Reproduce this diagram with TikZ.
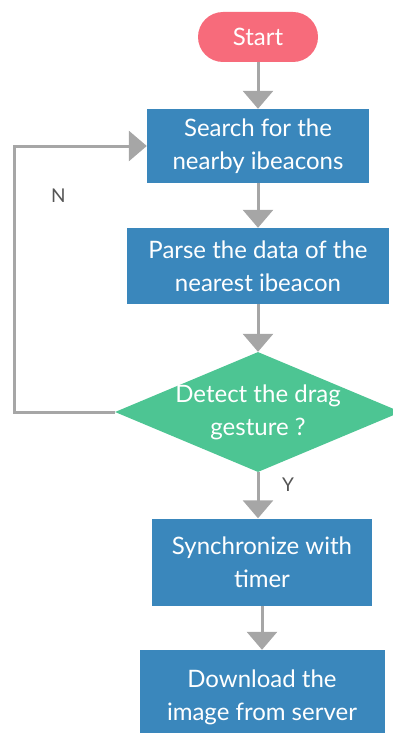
\documentclass[tikz,border=0pt]{standalone}
\usepackage{fontspec}
\setmainfont{Lato}
\usetikzlibrary{shapes.geometric, positioning, arrows.meta}
\definecolor{startred}{HTML}{F76B7B}
\definecolor{boxblue}{HTML}{3A87BC}
\definecolor{decgreen}{HTML}{4DC593}
\definecolor{flowgrey}{HTML}{A6A6A6}
\definecolor{labelgrey}{HTML}{555555}
\tikzset{%
  node distance=120pt,
  every node/.style={
    font=\fontsize{24}{33}\selectfont,
    text=white,
    align=center},
  terminal/.style={
    fill=startred,
    rounded corners=25pt,
    minimum width=120pt,
    minimum height=50pt},
  process/.style={
    fill=boxblue,
    inner sep=0pt},
  decision/.style={
    diamond,
    fill=decgreen,
    aspect=2.4,
    inner sep=-4pt,
    minimum width=286pt,
    minimum height=120pt},
  flowlabel/.style={
    text=labelgrey,
    inner sep=0pt,
    font=\fontsize{19}{22}\selectfont},
  flow/.style={
    draw=flowgrey,
    line width=3pt,
    -{Triangle[width=30pt,length=18pt]}},
  every edge/.style={flow} %
}

\begin{document}
\begin{tikzpicture}[x=1pt, y=1pt]
  \useasboundingbox (0,0) rectangle (393,-733);

  \node[terminal] (start) at (258,-37) {Start};
  \node[process, below of=start, node distance=109pt,
        minimum width=222pt, minimum height=74pt] (search) {Search for the\\nearby ibeacons};
  \node[process, below of=search, node distance=120pt,
        minimum width=262pt, minimum height=76pt] (parse) {Parse the data of the\\nearest ibeacon};
  \node[decision, below of=parse, node distance=146pt] (dec) {Detect the drag\\gesture ?};
  \node[process, below of=dec, node distance=150pt, xshift=4pt,
        minimum width=220pt, minimum height=87pt] (sync) {Synchronize with\\timer};
  \node[process, below of=sync, node distance=135pt,
        minimum width=245pt, minimum height=94pt] (down) {Download the\\image from server};

  \coordinate[left=132pt of search.west] (loopx);

  \draw
        (start) edge (search)
        (search) edge (parse)
        (parse) edge (dec)
        (dec.south) edge (dec.south |- sync.north)
        (sync) edge (down)
  ;
  \draw[flow] (dec.west) -| (loopx) -- (search.west);

  \node[flowlabel, below right=43pt and 36pt of loopx] (nlabel) {N};
  \node[flowlabel, below right=5pt and 24pt of dec.south] (ylabel) {Y};

\end{tikzpicture}
\end{document}
